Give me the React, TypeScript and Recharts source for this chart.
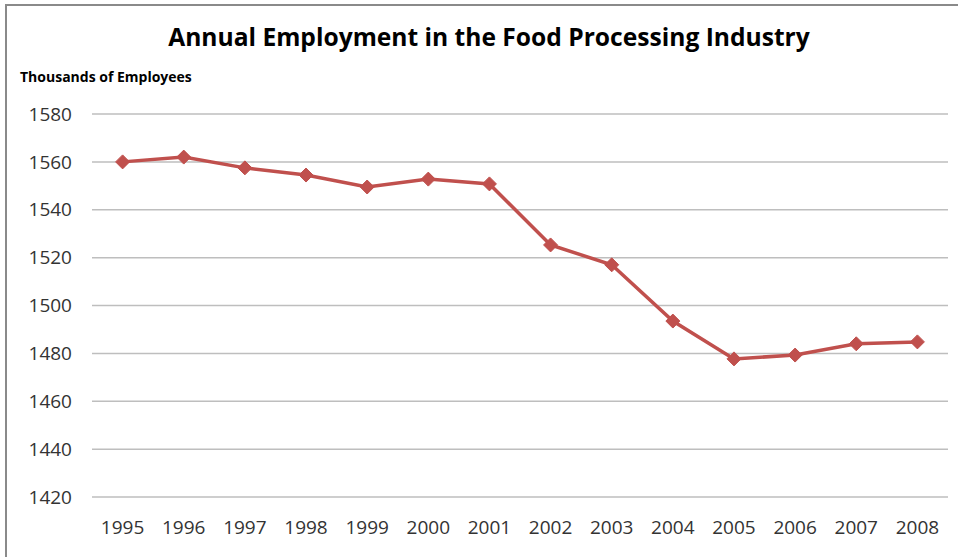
import React from 'react';
import { LineChart, Line, XAxis, YAxis, CartesianGrid } from 'recharts';

const years = ['1995','1996','1997','1998','1999','2000','2001','2002','2003','2004','2005','2006','2007','2008'];
const employment = [1560, 1562, 1557.5, 1554.5, 1549.5, 1552.8, 1550.8, 1525.3, 1517, 1493.5, 1477.7, 1479.3, 1484, 1484.8];
const yTicks = [1420, 1440, 1460, 1480, 1500, 1520, 1540, 1560, 1580];

const data = years.map((y, i) => ({ year: y, value: employment[i] }));

const LINE_COLOR = '#C0504D';
const FONT = '"Open Sans", sans-serif';

const Diamond = (props: any) => {
  const { cx, cy } = props;
  if (cx == null || cy == null) return null;
  const r = 7;
  return (
    <path
      d={`M${cx},${cy - r} L${cx + r},${cy} L${cx},${cy + r} L${cx - r},${cy} Z`}
      fill={LINE_COLOR}
      stroke={LINE_COLOR}
      strokeWidth={1}
    />
  );
};

export default function App() {
  return (
    <div style={{ position: 'absolute', left: 0, top: 0, width: 958, height: 557, overflow: 'hidden', background: '#fff' }}>
      <div style={{ position: 'absolute', left: 5, top: 4, width: 1000, height: 600, border: '2px solid #8a8a8a', boxSizing: 'border-box' }} />
      <div style={{ position: 'absolute', left: 0, top: 0 }}>
        <LineChart width={958} height={557} data={data} margin={{ top: 114, right: 10, bottom: 0, left: 12 }}>
          <text x={489} y={46} textAnchor="middle" fontFamily={FONT} fontWeight={700} fontSize={24.6} fill="#000">
            Annual Employment in the Food Processing Industry
          </text>
          <text x={20} y={82} textAnchor="start" fontFamily={FONT} fontWeight={700} fontSize={14} fill="#000">
            Thousands of Employees
          </text>
          <CartesianGrid vertical={false} stroke="#bebebe" strokeWidth={1.5} />
          <XAxis
            dataKey="year"
            height={60}
            axisLine={false}
            tickLine={false}
            tickMargin={18}
            padding={{ left: 30.6, right: 30.6 }}
            tick={{ fontFamily: FONT, fontSize: 19, fill: '#333' }}
            interval={0}
          />
          <YAxis
            width={80}
            domain={[1420, 1580]}
            ticks={yTicks}
            axisLine={false}
            tickLine={false}
            tickMargin={14}
            tick={{ fontFamily: FONT, fontSize: 19, fill: '#333' }}
          />
          <Line
            type="linear"
            dataKey="value"
            stroke={LINE_COLOR}
            strokeWidth={3.5}
            dot={<Diamond />}
            activeDot={false}
            isAnimationActive={false}
          />
        </LineChart>
      </div>
    </div>
  );
}
